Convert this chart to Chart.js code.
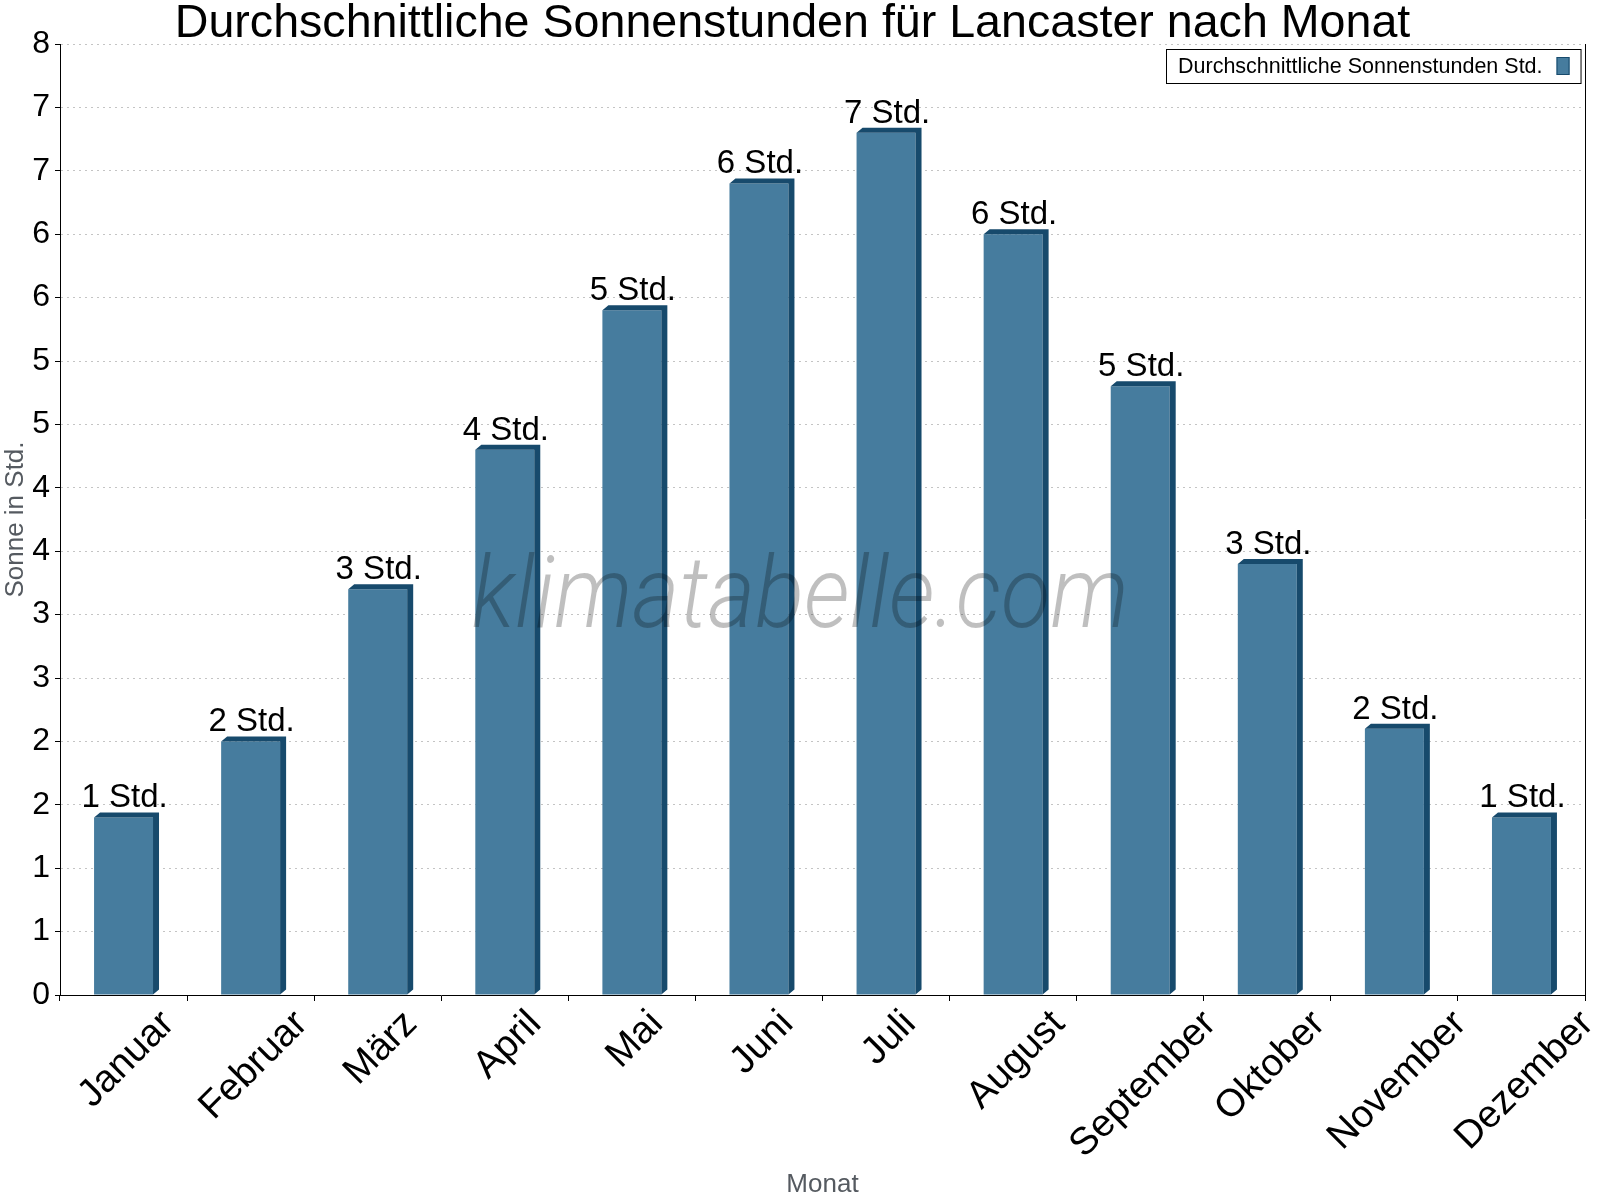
<!DOCTYPE html>
<html lang="de">
<head>
<meta charset="utf-8">
<title>Sonnenstunden Lancaster</title>
<script src="https://cdn.jsdelivr.net/npm/chart.js@4.4.1/dist/chart.umd.min.js"></script>
<style>
  html, body { margin: 0; padding: 0; background: #fff; }
  #wrap { width: 1600px; height: 1200px; }
</style>
</head>
<body>
<div id="wrap"><canvas id="sonnenChart" width="1600" height="1200"></canvas></div>
<script>
// Daten
const monate = ['Januar', 'Februar', 'März', 'April', 'Mai', 'Juni', 'Juli', 'August', 'September', 'Oktober', 'November', 'Dezember'];
const sonnenstunden = [1.4, 2.0, 3.2, 4.3, 5.4, 6.4, 6.8, 6.0, 4.8, 3.4, 2.1, 1.4];
const yTickWerte = [0, 0.5, 1, 1.5, 2, 2.5, 3, 3.5, 4, 4.5, 5, 5.5, 6, 6.5, 7, 7.5];
const yTickLabels = ['0', '1', '1', '2', '2', '3', '3', '4', '4', '5', '5', '6', '6', '7', '7', '8'];

const farbeFront = '#467c9e';
const farbeDunkel = '#174a6c';
const schrift = '"Liberation Sans", Arial, sans-serif';

// 3D-Effekt: Deckel und Seite der Balken
const balken3d = {
    id: 'balken3d',
    afterDatasetsDraw(chart) {
        const ctx = chart.ctx;
        const dx = 6, dy = 5;
        ctx.save();
        ctx.fillStyle = farbeDunkel;
        chart.getDatasetMeta(0).data.forEach(function(bar) {
            const p = bar.getProps(['x', 'y', 'base', 'width'], true);
            const l = p.x - p.width / 2, r = p.x + p.width / 2;
            ctx.beginPath();
            ctx.moveTo(l, p.y);
            ctx.lineTo(l + dx, p.y - dy);
            ctx.lineTo(r + dx, p.y - dy);
            ctx.lineTo(r + dx, p.base - dy);
            ctx.lineTo(r, p.base);
            ctx.lineTo(r, p.y);
            ctx.closePath();
            ctx.fill();
        });
        ctx.restore();
    }
};

// Wasserzeichen
const wasserzeichen = {
    id: 'wasserzeichen',
    afterDatasetsDraw(chart) {
        const ctx = chart.ctx;
        ctx.save();
        ctx.font = 'italic 300 100px Roboto';
        ctx.fillStyle = 'rgba(0, 0, 0, 0.25)';
        ctx.textAlign = 'center';
        ctx.textBaseline = 'alphabetic';
        ctx.fillText('klimatabelle.com', 800, 627, 657);
        ctx.restore();
    }
};

// Werte über den Balken
const wertLabels = {
    id: 'wertLabels',
    afterDatasetsDraw(chart) {
        const ctx = chart.ctx;
        ctx.save();
        ctx.font = '33px ' + schrift;
        ctx.fillStyle = '#000';
        ctx.textAlign = 'center';
        ctx.textBaseline = 'alphabetic';
        chart.getDatasetMeta(0).data.forEach(function(bar, i) {
            const p = bar.getProps(['x', 'y'], true);
            ctx.fillText(Math.round(sonnenstunden[i]) + ' Std.', p.x + 1, p.y - 10);
        });
        ctx.restore();
    }
};

// Monatsnamen schräg, Mitte unter der Kategorie
const monatsLabels = {
    id: 'monatsLabels',
    afterDraw(chart) {
        const ctx = chart.ctx;
        const xs = chart.scales.x;
        const groesse = 38.5;
        const capH = groesse * 0.716;
        ctx.save();
        ctx.font = groesse + 'px ' + schrift;
        ctx.fillStyle = '#000';
        ctx.textAlign = 'center';
        ctx.textBaseline = 'alphabetic';
        chart.data.labels.forEach(function(name, i) {
            const L = ctx.measureText(name).width;
            const cx = xs.getPixelForTick(i) + 1;
            const cy = xs.top + 11 + (L + capH) * 0.3536;
            ctx.save();
            ctx.translate(cx, cy);
            ctx.rotate(-Math.PI / 4);
            ctx.fillText(name, 0, capH / 2);
            ctx.restore();
        });
        ctx.restore();
    }
};

// Rahmen rechts und Legende
const rahmenLegende = {
    id: 'rahmenLegende',
    afterDraw(chart) {
        const ctx = chart.ctx;
        const a = chart.chartArea;
        ctx.save();
        ctx.strokeStyle = '#000';
        ctx.lineWidth = 1;
        ctx.beginPath();
        ctx.moveTo(Math.round(a.right) + 0.5, a.top);
        ctx.lineTo(Math.round(a.right) + 0.5, a.bottom);
        ctx.stroke();

        const text = chart.data.datasets[0].label;
        ctx.font = '21.5px ' + schrift;
        const tw = ctx.measureText(text).width;
        const w = 12 + tw + 14 + 13 + 11, h = 34;
        const x = Math.round(a.right - 4 - w), y = Math.round(a.top + 5);
        ctx.fillStyle = '#fff';
        ctx.fillRect(x, y, w, h);
        ctx.strokeRect(x + 0.5, y + 0.5, w, h);
        ctx.fillStyle = '#000';
        ctx.textBaseline = 'middle';
        ctx.textAlign = 'left';
        ctx.fillText(text, x + 12, y + h / 2 + 1);
        ctx.fillStyle = farbeFront;
        ctx.fillRect(x + 12 + tw + 14, y + 8, 13, 18);
        ctx.strokeStyle = farbeDunkel;
        ctx.strokeRect(x + 12 + tw + 14 + 0.5, y + 8.5, 12, 17);
        ctx.restore();
    }
};

const ctx = document.getElementById('sonnenChart').getContext('2d');
new Chart(ctx, {
    type: 'bar',
    data: {
        labels: monate,
        datasets: [{
            label: 'Durchschnittliche Sonnenstunden Std.',
            data: sonnenstunden,
            backgroundColor: farbeFront,
            borderWidth: 0,
            barPercentage: 0.464,
            categoryPercentage: 1.0
        }]
    },
    options: {
        responsive: false,
        animation: false,
        layout: { padding: { left: 0, right: 15, top: 0, bottom: 0 } },
        plugins: {
            legend: { display: false },
            tooltip: { enabled: false },
            title: {
                display: true,
                text: 'Durchschnittliche Sonnenstunden für Lancaster nach Monat',
                color: '#000',
                font: { family: schrift, size: 46.6, weight: 'normal', lineHeight: 0.837 },
                padding: { top: 5, bottom: 0 }
            }
        },
        scales: {
            x: {
                offset: true,
                grid: { offset: true, drawOnChartArea: false, color: '#000', tickLength: 6 },
                border: { color: '#000', width: 1 },
                ticks: { display: false },
                title: {
                    display: true,
                    text: 'Monat',
                    color: '#555a60',
                    font: { family: schrift, size: 26 },
                    padding: { top: 0, bottom: 0 }
                },
                afterFit: function(scale) { scale.height = 205; }
            },
            y: {
                min: 0,
                max: 7.5,
                afterBuildTicks: function(scale) {
                    scale.ticks = yTickWerte.map(function(v) { return { value: v }; });
                },
                grid: { color: '#c4c4c4', tickColor: '#000', tickLength: 5 },
                border: { color: '#000', width: 1, dash: [2, 4] },
                ticks: {
                    color: '#000',
                    font: { family: schrift, size: 32 },
                    padding: 5,
                    callback: function(value, index) { return yTickLabels[index]; }
                },
                title: {
                    display: true,
                    text: 'Sonne in Std.',
                    color: '#555a60',
                    font: { family: schrift, size: 26 },
                    padding: { top: 0, bottom: 0 }
                },
                afterFit: function(scale) { scale.width = 60; }
            }
        }
    },
    plugins: [balken3d, wasserzeichen, wertLabels, monatsLabels, rahmenLegende]
});
</script>
</body>
</html>
